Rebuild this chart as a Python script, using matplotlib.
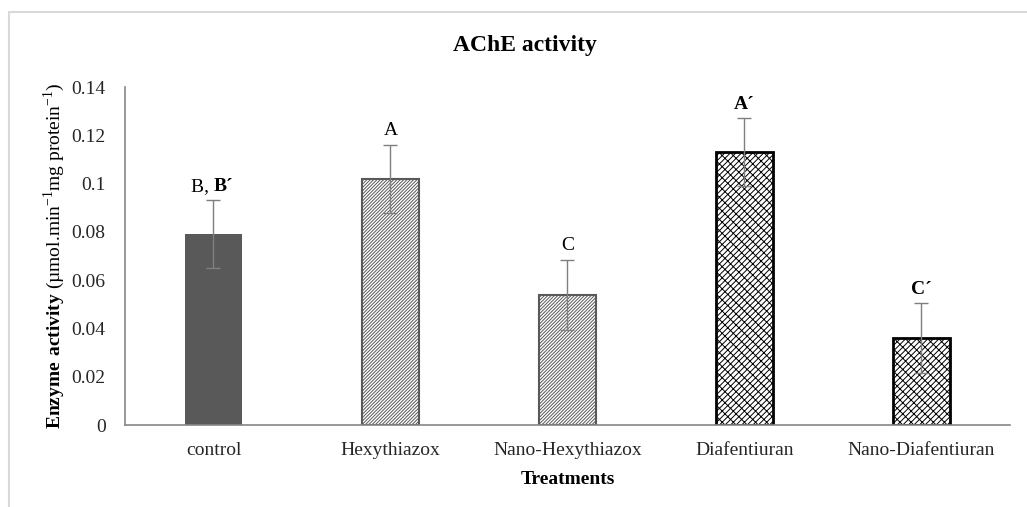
import matplotlib

matplotlib.use("Agg")
import matplotlib.pyplot as plt
from matplotlib.patches import Rectangle

treatments = ["control", "Hexythiazox", "Nano-Hexythiazox", "Diafentiuran", "Nano-Diafentiuran"]
activity = [0.079, 0.102, 0.054, 0.113, 0.036]
activity_err = [0.014, 0.014, 0.0145, 0.014, 0.0145]
letters = ["B, ", "A", "C", "A\u00b4", "C\u00b4"]
letters_bold = ["B\u00b4", None, None, None, None]
letter_weights = ["normal", "normal", "normal", "bold", "bold"]

plt.rcParams["font.family"] = ["Liberation Serif", "DejaVu Serif"]
plt.rcParams["mathtext.fontset"] = "custom"
plt.rcParams["mathtext.rm"] = "Liberation Serif"
plt.rcParams["mathtext.bf"] = "Liberation Serif:bold"
plt.rcParams["hatch.linewidth"] = 0.7

fig = plt.figure(figsize=(10.27, 5.07), dpi=100)
ax = fig.add_axes([0.1217, 0.1617, 0.8617, 0.6667])

# light chart-area border
fig.patches.append(
    Rectangle((9 / 1027, -0.2), 1.2, 1.2 - 12 / 507, transform=fig.transFigure,
              fill=False, edgecolor="#d9d9d9", linewidth=1.5, zorder=0)
)

x = range(len(treatments))
fills = ["#595959", "white", "white", "white", "white"]
edges = ["#595959", "#595959", "#595959", "black", "black"]
hatches = [None, "/" * 10, "/" * 10, "xxx///", "xxx///"]
widths = [0, 1.5, 1.5, 2.0, 2.0]

for i in x:
    ax.bar(i, activity[i], width=0.32, color=fills[i], edgecolor=edges[i],
           hatch=hatches[i], linewidth=widths[i], zorder=2)

ax.errorbar(list(x), activity, yerr=activity_err, fmt="none", ecolor="#7f7f7f",
            elinewidth=1, capsize=5, capthick=1, zorder=3)

for i in x:
    top = activity[i] + activity_err[i]
    if letters_bold[i]:
        ax.annotate(letters[i], (i, top), xytext=(0, 4), textcoords="offset points",
                    ha="right", va="bottom", fontsize=14)
        ax.annotate(letters_bold[i], (i, top), xytext=(0, 4), textcoords="offset points",
                    ha="left", va="bottom", fontsize=14, fontweight="bold")
    else:
        ax.annotate(letters[i], (i, top), xytext=(0, 4), textcoords="offset points",
                    ha="center", va="bottom", fontsize=14, fontweight=letter_weights[i])

ax.set_xlim(-0.5, len(treatments) - 0.5)
ax.set_ylim(0, 0.14)
ax.set_yticks([0, 0.02, 0.04, 0.06, 0.08, 0.1, 0.12, 0.14])
ax.set_yticklabels(["0", "0.02", "0.04", "0.06", "0.08", "0.1", "0.12", "0.14"])
ax.set_xticks(list(x))
ax.set_xticklabels(treatments)
ax.tick_params(axis="both", length=0, labelsize=14, colors="#262626")
ax.tick_params(axis="x", pad=12)
ax.tick_params(axis="y", pad=14)

for side in ["top", "right"]:
    ax.spines[side].set_visible(False)
for side in ["left", "bottom"]:
    ax.spines[side].set_color("#868686")
    ax.spines[side].set_linewidth(1.2)

# chart title sits over the whole chart area, not just the plot
fig.text(525 / 1027, 1 - 46 / 507, "AChE activity", fontsize=17, fontweight="bold",
         ha="center", va="center")
ax.set_xlabel("Treatments", fontsize=14, fontweight="bold", labelpad=9)
ax.set_ylabel(r"$\mathbf{Enzyme\ activity}$ (µmol.min$^{-1}$mg protein$^{-1}$)",
              fontsize=14, labelpad=3)

fig.savefig("out.png", dpi=100)
